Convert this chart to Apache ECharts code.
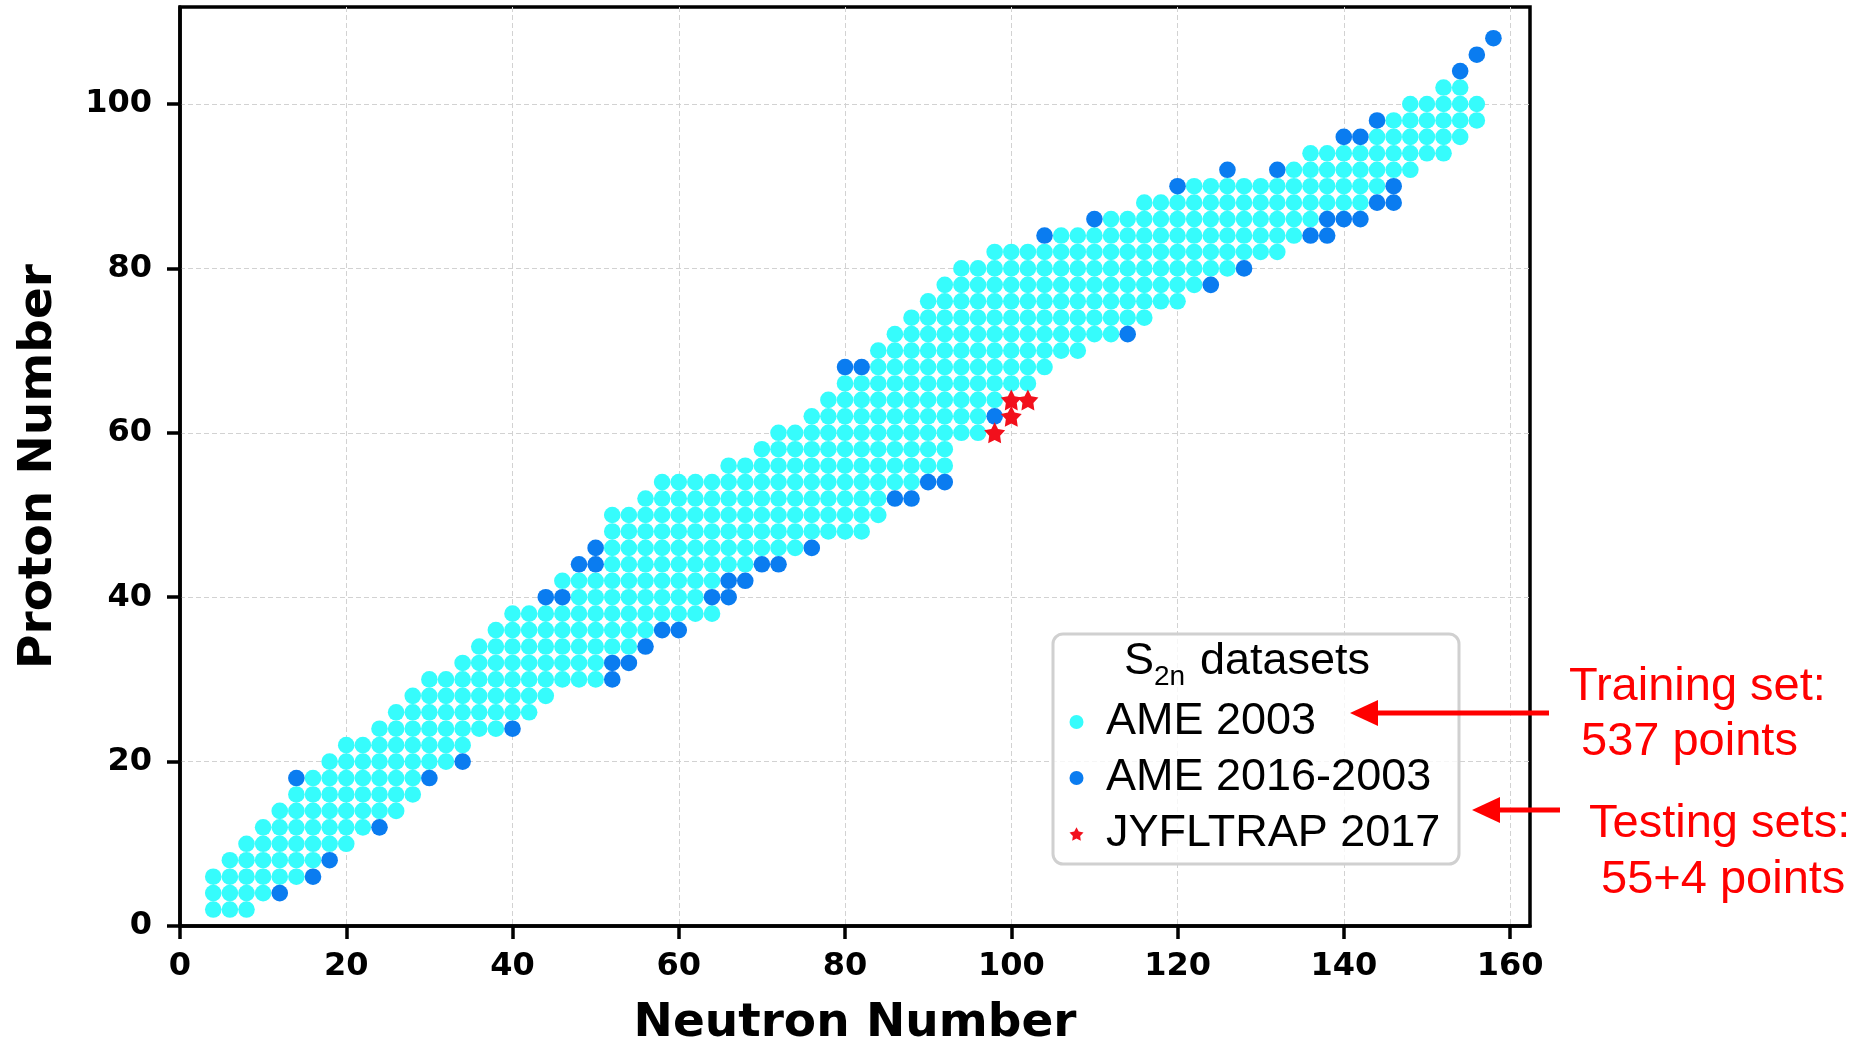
<!DOCTYPE html>
<html>
<head>
<meta charset="utf-8">
<script src="https://cdn.jsdelivr.net/npm/echarts@6/dist/echarts.min.js"></script>
<style>
html,body{margin:0;padding:0;background:#fff;}
#chart{width:1860px;height:1052px;}
</style>
</head>
<body>
<div id="chart"></div>
<script>
// ---- data ----
// AME 2003 (training set): for each proton number Z, the first and last neutron number N of the row
const cyanRowZ      = [2,4,6,8,10,12,14,16,18,20,22,24,26,28,30,32,34,36,38,40,42,44,46,48,50,52,54,56,58,60,62,64,66,68,70,72,74,76,78,80,82,84,86,88,90,92,94,96,98,100,102];
const cyanRowFirstN = [4,4,4,6,8,10,12,14,16,18,20,24,26,28,30,34,36,38,40,48,46,52,52,52,52,56,58,66,70,72,76,78,80,84,84,86,88,90,92,94,98,106,112,116,122,134,136,144,146,148,152];
const cyanRowLastN  = [8,10,14,16,20,22,26,28,28,32,34,38,42,44,50,50,54,56,64,62,64,68,74,82,84,84,88,92,92,96,96,98,102,104,108,112,116,120,122,126,132,134,136,142,144,148,152,154,156,156,154];

// AME 2016-2003 (testing set)
const ame2016N = [12,16,18,24,14,30,34,40,52,52,54,56,58,60,44,46,64,66,66,68,48,50,70,72,50,76,86,88,90,92,98,80,82,114,124,128,104,136,138,110,138,140,142,144,146,120,146,126,132,140,142,144,154,156,158];
const ame2016Z = [4,6,8,12,18,18,20,24,30,32,32,34,36,36,40,40,40,40,42,42,44,44,44,44,46,46,52,52,54,54,62,68,68,72,78,80,84,84,84,86,86,86,86,88,88,90,90,92,92,96,96,98,104,106,108];

// JYFLTRAP 2017 (testing set)
const jyflN = [98,100,100,102];
const jyflZ = [60,62,64,64];

const xTickLabels = [0,20,40,60,80,100,120,140,160];
const yTickLabels = [0,20,40,60,80,100];

const seriesNames = ['AME 2003','AME 2016-2003','JYFLTRAP 2017'];

// ---- build chart data ----
const cyanData = [];
cyanRowZ.forEach(function(z, i){
  for (let n = cyanRowFirstN[i]; n <= cyanRowLastN[i]; n += 2) cyanData.push([n, z]);
});
const blueData = ame2016N.map(function(n, i){ return [n, ame2016Z[i]]; });
const redData = jyflN.map(function(n, i){ return [n, jyflZ[i]]; });

const starPath = 'path://M50 0 L65.28 28.97 L97.55 34.55 L74.73 58.03 L79.39 90.45 L50 76 L20.61 90.45 L25.27 58.03 L2.45 34.55 L34.72 28.97 Z';

const tickFont = {fontFamily:'DejaVu Sans', fontWeight:'bold', fontSize:32, color:'#000'};
const nameFont = {fontFamily:'DejaVu Sans', fontWeight:'bold', fontSize:47, color:'#000'};
const gridLine = {show:true, lineStyle:{color:'#d2d2d2', width:1, type:[5,3]}};

const chart = echarts.init(document.getElementById('chart'), null, {renderer:'canvas'});
chart.setOption({
  animation:false,
  backgroundColor:'#ffffff',
  grid:{left:180, top:7, width:1350, height:922, show:true, borderColor:'#000', borderWidth:3.5, backgroundColor:'rgba(0,0,0,0)'},
  xAxis:{
    type:'value', min:0, max:162.4, interval:20,
    axisLine:{show:true, onZero:false, lineStyle:{color:'#000', width:3.5}},
    axisTick:{show:true, length:13, customValues:xTickLabels, lineStyle:{color:'#000', width:3.5}},
    axisLabel:Object.assign({margin:25, customValues:xTickLabels}, tickFont),
    splitLine:gridLine,
    name:'Neutron Number', nameLocation:'middle', nameGap:74, nameTextStyle:nameFont
  },
  yAxis:{
    type:'value', min:0, max:111.8, interval:20,
    axisLine:{show:true, onZero:false, lineStyle:{color:'#000', width:3.5}},
    axisTick:{show:true, length:13, customValues:yTickLabels, lineStyle:{color:'#000', width:3.5}},
    axisLabel:Object.assign({margin:28, customValues:yTickLabels}, tickFont),
    splitLine:gridLine,
    name:'Proton Number', nameLocation:'middle', nameGap:118, nameRotate:90, nameTextStyle:nameFont
  },
  legend:{
    orient:'vertical', left:1069.5, top:694, padding:0, itemGap:0,
    itemWidth:14, itemHeight:14, selectedMode:false,
    data:[{name:seriesNames[0], icon:'circle', itemWidth:13}, {name:seriesNames[1], icon:'circle'}, {name:seriesNames[2], icon:starPath}],
    textStyle:{fontFamily:'Liberation Sans', fontSize:45, color:'#000', lineHeight:56, padding:[0,0,0,17.5]},
    z:10
  },
  graphic:[
    {type:'rect', z:5, shape:{x:1053, y:634, width:406, height:230, r:10}, style:{fill:'rgba(255,255,255,0.8)', stroke:'#d0d0d0', lineWidth:3}},
    {type:'text', z:11, style:{x:1124, y:662, text:'S', font:'45px "Liberation Sans"', fill:'#000', verticalAlign:'middle', align:'left'}},
    {type:'text', z:11, style:{x:1154, y:677, text:'2n', font:'28px "Liberation Sans"', fill:'#000', verticalAlign:'middle', align:'left'}},
    {type:'text', z:11, style:{x:1200, y:662, text:'datasets', font:'45px "Liberation Sans"', fill:'#000', verticalAlign:'middle', align:'left'}},
    {type:'line', z:11, shape:{x1:1549, y1:713, x2:1374, y2:713}, style:{stroke:'#ff0000', lineWidth:5}},
    {type:'polygon', z:11, shape:{points:[[1350,713],[1378,700],[1378,726]]}, style:{fill:'#ff0000'}},
    {type:'line', z:11, shape:{x1:1560, y1:810, x2:1495, y2:810}, style:{stroke:'#ff0000', lineWidth:5}},
    {type:'polygon', z:11, shape:{points:[[1472,810],[1500,797],[1500,823]]}, style:{fill:'#ff0000'}},
    {type:'text', z:11, style:{x:1569, y:687, text:'Training set:', font:'47px "Liberation Sans"', fill:'#ff0000', verticalAlign:'middle', align:'left'}},
    {type:'text', z:11, style:{x:1581, y:742, text:'537 points', font:'47px "Liberation Sans"', fill:'#ff0000', verticalAlign:'middle', align:'left'}},
    {type:'text', z:11, style:{x:1589, y:824, text:'Testing sets:', font:'47px "Liberation Sans"', fill:'#ff0000', verticalAlign:'middle', align:'left'}},
    {type:'text', z:11, style:{x:1601, y:880, text:'55+4 points', font:'47px "Liberation Sans"', fill:'#ff0000', verticalAlign:'middle', align:'left'}}
  ],
  series:[
    {name:seriesNames[0], type:'scatter', data:cyanData, symbol:'circle', symbolSize:16.6, itemStyle:{color:'#36fcfc', opacity:1}, z:2},
    {name:seriesNames[1], type:'scatter', data:blueData, symbol:'circle', symbolSize:16.6, itemStyle:{color:'#0a7cf0', opacity:1}, z:3},
    {name:seriesNames[2], type:'scatter', data:redData, symbol:starPath, symbolSize:21, itemStyle:{color:'#f2101c', opacity:1}, z:4}
  ]
});
</script>
</body>
</html>
